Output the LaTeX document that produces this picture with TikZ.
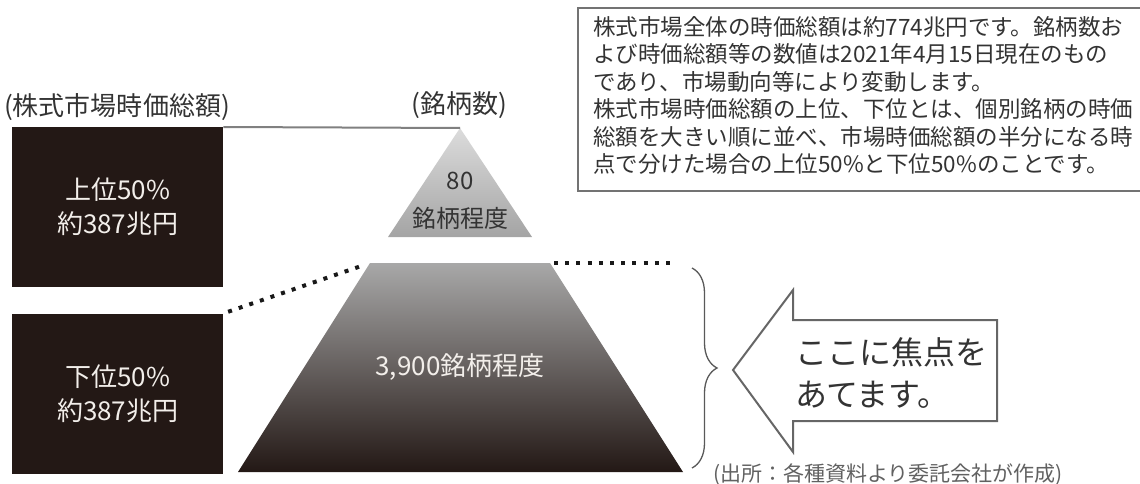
\documentclass[tikz,border=0pt]{standalone}
\usepackage{fontspec}
\setmainfont{Noto Sans CJK JP}
\usetikzlibrary{positioning,decorations.pathreplacing}
\usepackage{xcolor}
\definecolor{boxblack}{HTML}{231815}
\definecolor{boxtext}{HTML}{F2EEEA}
\definecolor{inktext}{HTML}{333333}
\definecolor{rulegray}{HTML}{808080}
\definecolor{tritop}{HTML}{DCDCDC}
\definecolor{tribot}{HTML}{A4A4A4}
\definecolor{traptop}{HTML}{A8A8A8}

\begin{document}
\begin{tikzpicture}[x=1pt, y=-1pt,
    darkbox/.style = {fill=boxblack, text=boxtext, minimum width=211pt, minimum height=160pt, inner sep=0pt, align=center, font=\fontsize{26}{34}\selectfont},
    lbl/.style = {text=inktext, inner sep=0pt, font=\fontsize{26}{30}\selectfont},
    dots/.style = {draw=black!90, line width=4pt, dash pattern=on 4pt off 7.2pt},
    thinline/.style = {draw=rulegray, line width=2pt}]
    \useasboundingbox (0,0) rectangle (1140,484);
		% left side: market value
		\node[lbl] (capl) at (117,107) {(株式市場時価総額)};
		\node[darkbox, anchor=north west] (upper) at (12,127) {上位50\%\\約387兆円};
		\node[darkbox] (lower) [below = 26pt of upper] {下位50\%\\約387兆円};
		% pyramid
		\node[lbl] (capr) at (459,105) {(銘柄数)};
		\coordinate (tip) at (460,128);
		\coordinate (tribl) at (388,237);
		\coordinate (tribr) at (532,237);
		\shade[top color=tritop, bottom color=tribot] (tip) -- (tribr) -- (tribl) -- cycle;
		\node[lbl, align=center, font=\fontsize{24}{38}\selectfont] (few) at (460,201) {80\\銘柄程度};
		\coordinate (tl) at (370,263);
		\coordinate (tr) at (550,263);
		\coordinate (br) at (683,472);
		\coordinate (bl) at (238,472);
		\shade[top color=traptop, bottom color=boxblack] (tl) -- (tr) -- (br) -- (bl) -- cycle;
		\node[lbl, text=boxtext] (many) at (460,367) {3,900銘柄程度};
		\coordinate (dotend) at (677,263);
		\draw[thinline] (upper.north east) -- (tip);
		\draw[dots, shorten <=5pt, shorten >=5pt] (lower.north east) -- (tl);
		\draw[dots, shorten <=4pt] (tr) -- (dotend);
		% focus arrow
		\coordinate (btop) at (692,268);
		\coordinate (bbot) at (692,468);
		\draw[draw=black!65, line width=1.3pt, decorate, decoration={brace, amplitude=25pt}] (btop) -- (bbot);
		\draw[draw=black!60, line width=2pt, fill=white] (733,370) -- (793,290) -- (793,320) -- (997,320) -- (997,421) -- (793,421) -- (793,452) -- cycle;
		\node[lbl, anchor=west, align=left, font=\fontsize{32}{43}\selectfont] (focus) at (795,373) {ここに焦点を\\あてます。};
		\node[lbl, anchor=west, text=black!62, font=\fontsize{21}{24}\selectfont] (src) at (713,475) {(出所：各種資料より委託会社が作成)};
		% note (frame runs past the right edge)
		\draw[draw=black!55, line width=2pt] (1141,8) -- (578,8) -- (578,191) -- (1141,191);
		\node[anchor=north west, inner sep=0pt, align=left, text=inktext, font=\fontsize{22.5}{27.5}\selectfont] (note) at (593,16) {株式市場全体の時価総額は約774兆円です。銘柄数お\\よび時価総額等の数値は2021年4月15日現在のもの\\であり、市場動向等により変動します。\\株式市場時価総額の上位、下位とは、個別銘柄の時価\\総額を大きい順に並べ、市場時価総額の半分になる時\\点で分けた場合の上位50\%と下位50\%のことです。};
	\end{tikzpicture}
\end{document}
